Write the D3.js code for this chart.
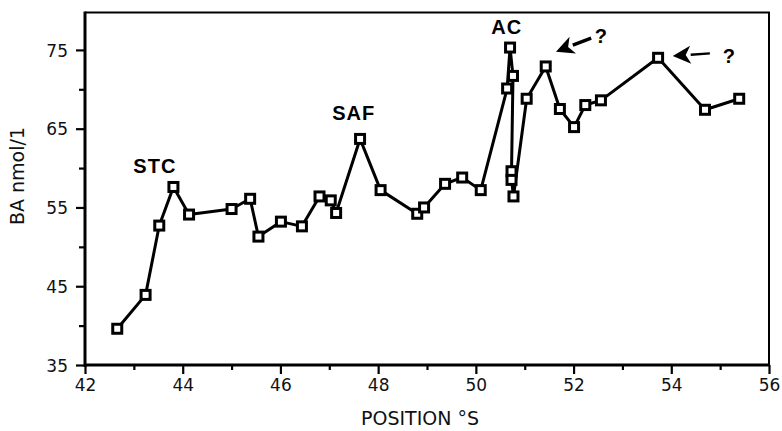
<!DOCTYPE html>
<html>
<head>
<meta charset="utf-8">
<script src="https://cdn.jsdelivr.net/npm/d3@7"></script>
<style>
  html, body { margin: 0; padding: 0; background: #fff; }
  svg { display: block; }
  .tick-label { font-family: "DejaVu Sans", sans-serif; font-size: 17px; fill: #111; }
  .axis-title { font-family: "DejaVu Sans", sans-serif; font-size: 19px; fill: #111; }
  .annot { font-family: "Liberation Sans", Arial, sans-serif; font-weight: bold; font-size: 20px; fill: #000; letter-spacing: 1px; }
</style>
</head>
<body>
<script>
// Bile acid concentration along the transect (latitude, °S)
const positions = [42.66, 43.24, 43.52, 43.81, 44.13, 45.00, 45.38, 45.55, 46.01, 46.44,
                   46.80, 47.03, 47.14, 47.63, 48.05, 48.80, 48.94, 49.37, 49.72, 50.10,
                   50.64, 50.70, 50.76, 50.73, 50.73, 50.77, 51.04, 51.43, 51.72, 52.01,
                   52.24, 52.56, 53.73, 54.69, 55.39];
const baValues  = [39.6, 43.9, 52.7, 57.6, 54.1, 54.8, 56.1, 51.3, 53.2, 52.6,
                   56.4, 55.9, 54.3, 63.7, 57.2, 54.2, 55.0, 58.0, 58.8, 57.2,
                   70.1, 75.3, 71.7, 59.6, 58.5, 56.4, 68.8, 72.9, 67.5, 65.2,
                   68.0, 68.6, 74.0, 67.4, 68.8];

const xMajorTicks = [42, 44, 46, 48, 50, 52, 54, 56];
const xMinorTicks = [43, 45, 47, 49, 51, 53, 55];
const yMajorTicks = [35, 45, 55, 65, 75];
const yMinorTicks = [40, 50, 60, 70];

// Front labels and the two marked peaks
const frontNames = ["STC", "SAF", "AC"];
const frontAt = [[43.43, 59.4], [47.50, 66.05], [50.63, 77.0]];
const queryArrows = [
  { tail: [52.36, 76.5], tip: [51.64, 74.78], mark: [52.57, 75.9], width: 3.4 },
  { tail: [54.79, 74.56], tip: [54.03, 74.24], mark: [55.19, 73.35], width: 2.4 }
];

const W = 782, H = 431;
const svg = d3.select("body").append("svg").attr("width", W).attr("height", H);

const x = d3.scaleLinear().domain([42, 56]).range([85, 769]);
const y = d3.scaleLinear().domain([35, 79.75]).range([365, 12.5]);

// Thin top and right frame
svg.append("path")
  .attr("d", `M${x(42)},${y(79.75)}H${x(56)}V${y(35)}`)
  .attr("fill", "none").attr("stroke", "#000").attr("stroke-width", 2);

// Bottom axis
const xAxis = svg.append("g").attr("transform", `translate(0,${y(35)})`);
xAxis.call(d3.axisBottom(x).tickValues(xMajorTicks).tickSize(9).tickFormat(d3.format("d")));
xAxis.append("g").call(d3.axisBottom(x).tickValues(xMinorTicks).tickSize(5).tickFormat(""));
xAxis.selectAll(".domain").remove();
xAxis.selectAll(".tick line").attr("stroke", "#000").attr("stroke-width", 2.2);
xAxis.selectAll(".tick text").attr("class", "tick-label").attr("y", 14).attr("dy", "0.71em");
xAxis.attr("font-size", null).attr("font-family", null);

// Left axis
const yAxis = svg.append("g").attr("transform", `translate(${x(42)},0)`);
yAxis.call(d3.axisLeft(y).tickValues(yMajorTicks).tickSize(9).tickFormat(d3.format("d")));
yAxis.append("g").call(d3.axisLeft(y).tickValues(yMinorTicks).tickSize(6).tickFormat(""));
yAxis.selectAll(".domain").remove();
yAxis.selectAll(".tick line").attr("stroke", "#000").attr("stroke-width", 2.2);
yAxis.selectAll(".tick text").attr("class", "tick-label").attr("x", -17).attr("dy", "0.36em");
yAxis.attr("font-size", null).attr("font-family", null);

// Heavy axis lines
svg.append("line").attr("x1", x(42)).attr("x2", x(56)).attr("y1", y(35)).attr("y2", y(35))
  .attr("stroke", "#000").attr("stroke-width", 3);
svg.append("line").attr("x1", x(42)).attr("x2", x(42)).attr("y1", y(35) + 2).attr("y2", y(79.75) - 1)
  .attr("stroke", "#000").attr("stroke-width", 3);

// Axis titles
svg.append("text").attr("class", "axis-title")
  .attr("x", (x(42) + x(56)) / 2 - 7).attr("y", 425).attr("text-anchor", "middle")
  .text("POSITION °S");
svg.append("text").attr("class", "axis-title")
  .attr("transform", `translate(24,176) rotate(-90)`).attr("text-anchor", "middle")
  .text("BA nmol/1");

// Data line
const pts = positions.map((p, i) => [p, baValues[i]]);
svg.append("path")
  .datum(pts)
  .attr("d", d3.line().x(d => x(d[0])).y(d => y(d[1])))
  .attr("fill", "none").attr("stroke", "#000").attr("stroke-width", 3)
  .attr("stroke-linejoin", "round");

// Square markers
svg.append("g").selectAll("rect").data(pts).join("rect")
  .attr("x", d => x(d[0]) - 4.5).attr("y", d => y(d[1]) - 4.5)
  .attr("width", 9).attr("height", 9)
  .attr("fill", "#fff").attr("stroke", "#000").attr("stroke-width", 3);

// Front labels
svg.append("g").selectAll("text").data(frontNames).join("text")
  .attr("class", "annot").attr("text-anchor", "middle")
  .attr("x", (d, i) => x(frontAt[i][0])).attr("y", (d, i) => y(frontAt[i][1]))
  .text(d => d);

// Arrows with question marks
queryArrows.forEach(a => {
  const x0 = x(a.tail[0]), y0 = y(a.tail[1]);
  const x1 = x(a.tip[0]), y1 = y(a.tip[1]);
  const ang = Math.atan2(y1 - y0, x1 - x0);
  const headLen = 18, headHalf = 9;
  const bx = x1 - headLen * Math.cos(ang), by = y1 - headLen * Math.sin(ang);
  const nx = -Math.sin(ang), ny = Math.cos(ang);
  svg.append("line").attr("x1", x0).attr("y1", y0).attr("x2", bx).attr("y2", by)
    .attr("stroke", "#000").attr("stroke-width", a.width);
  svg.append("path")
    .attr("d", `M${x1},${y1}L${bx + nx * headHalf},${by + ny * headHalf}` +
               `L${bx + 5 * Math.cos(ang)},${by + 5 * Math.sin(ang)}` +
               `L${bx - nx * headHalf},${by - ny * headHalf}Z`)
    .attr("fill", "#000");
  svg.append("text").attr("class", "annot").attr("text-anchor", "middle")
    .attr("x", x(a.mark[0])).attr("y", y(a.mark[1])).text("?");
});
</script>
</body>
</html>
